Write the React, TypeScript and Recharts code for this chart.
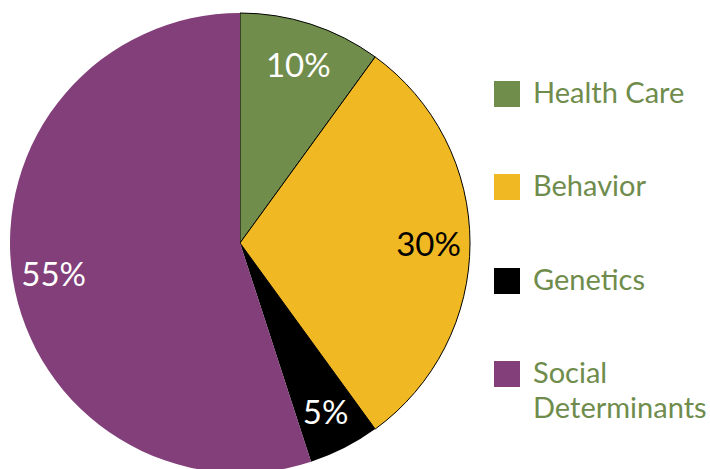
import React from 'react';
import { PieChart, Pie, Cell, Legend } from 'recharts';

const categories = ['Health Care', 'Behavior', 'Genetics', 'Social Determinants'];
const values = [10, 30, 5, 55];
const legendLines = [['Health Care'], ['Behavior'], ['Genetics'], ['Social', 'Determinants']];
const colors = ['#718d4c', '#f0b823', '#000000', '#823f7a'];
const strokes = ['#000000', '#000000', 'none', 'none'];
const labelColors = ['#ffffff', '#000000', '#ffffff', '#ffffff'];

const data = categories.map((name, i) => ({ name, value: values[i] }));

const FONT = 'Lato, "Open Sans", sans-serif';
const TEXT_GREEN = '#6f8c4c';
const RADIAN = Math.PI / 180;

const renderLabel = (props: any) => {
  const { cx, cy, midAngle, outerRadius, index } = props;
  const r = outerRadius * 0.82;
  const x = cx + r * Math.cos(-midAngle * RADIAN);
  const y = cy + r * Math.sin(-midAngle * RADIAN);
  return (
    <text
      x={x}
      y={y}
      fill={labelColors[index]}
      textAnchor="middle"
      dominantBaseline="central"
      fontFamily={FONT}
      fontSize={33}
    >
      {`${values[index]}%`}
    </text>
  );
};

const renderLegend = () => (
  <div style={{ position: 'relative', width: 230, height: 469 }}>
    {legendLines.map((lines, i) => (
      <div
        key={categories[i]}
        style={{ position: 'absolute', left: 14, top: 81 + i * 93.3 }}
      >
        <div
          style={{
            position: 'absolute',
            left: 0,
            top: 0,
            width: 26,
            height: 26,
            background: colors[i],
          }}
        />
        <div
          style={{
            position: 'absolute',
            left: 39,
            top: -7,
            fontFamily: FONT,
            fontSize: 29,
            lineHeight: '35px',
            color: TEXT_GREEN,
            whiteSpace: 'nowrap',
          }}
        >
          {lines.map((l) => (
            <div key={l}>{l}</div>
          ))}
        </div>
      </div>
    ))}
  </div>
);

export default function App() {
  return (
    <div style={{ position: 'absolute', left: 0, top: 0, width: 710, height: 469, background: '#fff' }}>
      <PieChart width={710} height={469} margin={{ top: 0, right: 0, bottom: 0, left: 0 }}>
        <Pie
          data={data}
          dataKey="value"
          nameKey="name"
          cx={240}
          cy={243}
          outerRadius={230}
          startAngle={90}
          endAngle={-270}
          label={renderLabel}
          labelLine={false}
          isAnimationActive={false}
        >
          {data.map((d, i) => (
            <Cell key={d.name} fill={colors[i]} stroke={strokes[i]} strokeWidth={1} />
          ))}
        </Pie>
        <Legend
          layout="vertical"
          align="right"
          verticalAlign="top"
          content={renderLegend}
          wrapperStyle={{ position: 'absolute', left: 480, top: 0, width: 230, height: 469 }}
        />
      </PieChart>
    </div>
  );
}
